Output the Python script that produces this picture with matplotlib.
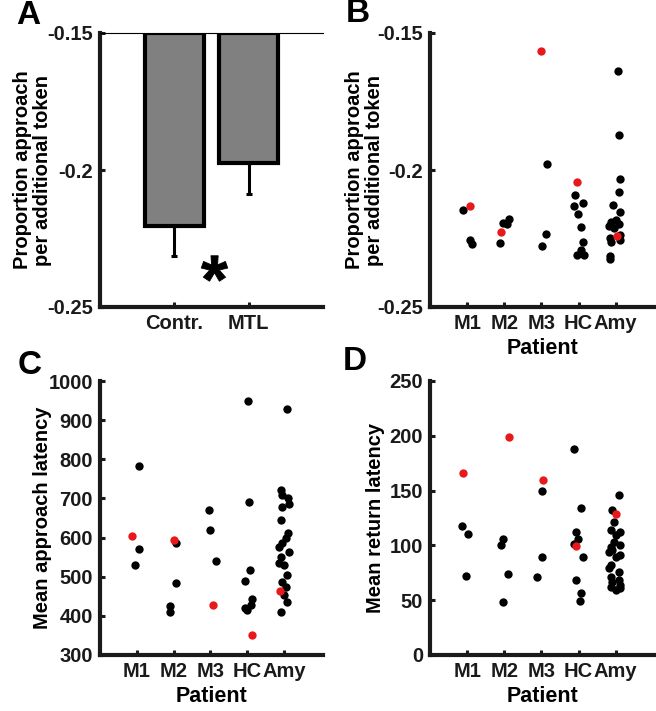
import numpy as np
import matplotlib
matplotlib.use("Agg")
import matplotlib.pyplot as plt
from matplotlib.textpath import TextPath
from matplotlib.font_manager import FontProperties
from matplotlib.path import Path

plt.rcParams['font.family'] = ['Liberation Sans', 'DejaVu Sans']
plt.rcParams['font.weight'] = 'bold'

# ---------------- data ----------------
groups_A = ['Contr.', 'MTL']
mean_A = [-0.2204, -0.1974]
err_A = [0.0110, 0.0114]
star_A = (1.53, -0.2358)

patients = ['M1', 'M2', 'M3', 'HC', 'Amy']

# Panel B: proportion approach per additional token
B_black_val = {
    'M1': [-0.2147, -0.2257, -0.2269],
    'M2': [-0.2266, -0.2193, -0.2197, -0.2179],
    'M3': [-0.1977, -0.2234, -0.2279],
    'HC': [-0.2090, -0.2130, -0.2120, -0.2161, -0.2208, -0.2261, -0.2291, -0.2309, -0.2309],
    'Amy': [-0.1640, -0.1874, -0.2033, -0.2082, -0.2127, -0.2155, -0.2188, -0.2181, -0.2196,
            -0.2206, -0.2212, -0.2236, -0.2248, -0.2261, -0.2254, -0.2313, -0.2325],
}
B_black_jit = {
    'M1': [-0.11, 0.09, 0.14],
    'M2': [-0.11, -0.04, 0.07, 0.13],
    'M3': [0.14, 0.13, 0.01],
    'HC': [-0.10, -0.12, 0.13, -0.01, 0.08, 0.13, 0.06, -0.03, 0.15],
    'Amy': [0.06, 0.10, 0.12, 0.09, -0.06, 0.13, -0.13, 0.00, 0.09,
            -0.18, -0.05, 0.13, -0.15, -0.13, 0.13, -0.15, -0.15],
}
B_red_val = [-0.2130, -0.2226, -0.1567, -0.2042, -0.2242]
B_red_jit = [0.09, -0.09, 0.00, -0.03, 0.03]

# Panel C: mean approach latency
C_black_val = {
    'M1': [783, 571, 531],
    'M2': [587, 485, 425, 410],
    'M3': [671, 619, 540],
    'HC': [949, 691, 517, 489, 421, 416, 427, 442],
    'Amy': [928, 721, 708, 700, 687, 677, 644, 611, 598, 585, 576, 564, 551, 534, 530,
            504, 487, 474, 453, 436, 411],
}
C_black_jit = {
    'M1': [0.07, 0.07, -0.06],
    'M2': [0.06, 0.06, -0.09, -0.11],
    'M3': [-0.04, 0.00, 0.14],
    'HC': [0.02, 0.04, 0.08, -0.07, -0.07, -0.01, 0.11, 0.14],
    'Amy': [0.09, -0.09, -0.05, 0.12, 0.13, -0.05, -0.09, 0.12, 0.05, -0.05, -0.13, 0.13,
            -0.09, -0.13, 0.00, 0.09, -0.05, 0.05, 0.00, 0.09, -0.09],
}
C_red_val = [603, 593, 429, 351, 463]
C_red_jit = [-0.13, 0.00, 0.08, 0.12, -0.12]

# Panel D: mean return latency
D_black_val = {
    'M1': [117.5, 110, 72],
    'M2': [100, 106, 73.5, 48],
    'M3': [150, 89, 71],
    'HC': [188.4, 133.7, 112.4, 105.4, 101, 89.6, 68.4, 56.2, 49],
    'Amy': [145.8, 132, 121.5, 114, 112.4, 109.4, 103, 100, 98.7, 95.7, 94, 91, 89.6, 82,
            79, 76, 71.4, 68.4, 66.8, 63.8, 62.3, 59.2, 60.8],
}
D_black_jit = {
    'M1': [-0.15, 0.02, -0.02],
    'M2': [-0.09, -0.03, 0.09, -0.04],
    'M3': [0.01, 0.01, -0.11],
    'HC': [-0.12, 0.08, -0.07, -0.01, -0.13, 0.13, -0.07, 0.08, 0.04],
    'Amy': [0.09, -0.09, -0.05, -0.13, 0.12, 0.00, -0.05, 0.12, -0.13, -0.09, -0.18, 0.12,
            0.00, -0.13, -0.18, 0.09, -0.13, 0.09, -0.09, 0.13, -0.13, 0.00, 0.13],
}
D_red_val = [166, 199, 159.5, 99.3, 129]
D_red_jit = [-0.12, 0.12, 0.04, -0.07, 0.00]

# ---------------- style ----------------
W, H = 656, 711
fig = plt.figure(figsize=(W / 100, H / 100), dpi=100)

def px_axes(left, top, right, bottom):
    return fig.add_axes([left / W, 1 - bottom / H, (right - left) / W, (bottom - top) / H])

RED = '#e8191c'
SPINE_LW = 3.0
FS = 14.5
LFS = 14.5

def style(ax):
    for s in ['top', 'right']:
        ax.spines[s].set_visible(False)
    for s in ['left', 'bottom']:
        ax.spines[s].set_linewidth(SPINE_LW)
        ax.spines[s].set_color('#1a1a1a')
    ax.tick_params(direction='in', length=3.5, width=2.2, labelsize=FS, pad=5, colors='#1a1a1a')
    for lab in ax.get_xticklabels() + ax.get_yticklabels():
        lab.set_fontweight('bold')

def letter(x, y, t):
    fig.text(x / W, 1 - y / H, t, fontsize=24, fontweight='bold', ha='center', va='center')

def scatter_panel(ax, bvals, bjit, rvals, rjit):
    for i, p in enumerate(patients):
        xs = [i + 1 + j for j in bjit[p]]
        ax.plot(xs, bvals[p], 'o', color='black', ms=6.0, mec='none', zorder=3)
    xs = [i + 1 + j for i, j in enumerate(rjit)]
    ax.plot(xs, rvals, 'o', color=RED, ms=6.0, mec='none', zorder=4)
    ax.set_xlim(0, 6.06)
    ax.set_xticks(range(1, len(patients) + 1))
    ax.set_xticklabels(patients)
    ax.set_xlabel('Patient', fontsize=15.5, fontweight='bold', labelpad=4)

# ---------------- panel A ----------------
axA = px_axes(100, 33, 323, 307)
xA = np.arange(1, len(groups_A) + 1)
base = -0.15
axA.bar(xA, np.array(mean_A) - base, bottom=base, width=0.8, color='#808080',
        edgecolor='black', linewidth=3.0, zorder=2)
axA.errorbar(xA, mean_A, yerr=[err_A, [0, 0]], fmt='none', ecolor='black',
             elinewidth=2.2, capsize=2.5, capthick=2.2, zorder=1)
axA.set_xlim(0, 3)
axA.set_ylim(-0.25, -0.15)
axA.set_yticks([-0.25, -0.2, -0.15])
axA.set_yticklabels(['-0.25', '-0.2', '-0.15'])
axA.set_xticks(xA)
axA.set_xticklabels(groups_A)
style(axA)
axA.spines['top'].set_visible(True)
axA.spines['top'].set_linewidth(0.8)
axA.set_ylabel('Proportion approach\nper additional token', fontsize=LFS,
               fontweight='bold', linespacing=1.05)
axA.yaxis.set_label_coords(-0.215, 0.5)

# asterisk marker centred on its glyph (ignore CLOSEPOLY placeholder vertices)
tp = TextPath((0, 0), '*', size=1, prop=FontProperties(family='Liberation Sans', weight='bold'))
v = tp.vertices.copy()
codes = tp.codes
real = codes != Path.CLOSEPOLY
c = (v[real].min(axis=0) + v[real].max(axis=0)) / 2
v = v - c
v[~real] = 0.0
star_path = Path(v, codes)
axA.plot([star_A[0]], [star_A[1]], marker=star_path, ms=19, color='black', mec='black', mew=0.6)

letter(28, 15, 'A')

# ---------------- panel B ----------------
axB = px_axes(430, 33, 655, 307)
scatter_panel(axB, B_black_val, B_black_jit, B_red_val, B_red_jit)
axB.set_ylim(-0.25, -0.15)
axB.set_yticks([-0.25, -0.2, -0.15])
axB.set_yticklabels(['-0.25', '-0.2', '-0.15'])
style(axB)
axB.set_ylabel('Proportion approach\nper additional token', fontsize=LFS,
               fontweight='bold', linespacing=1.05)
axB.yaxis.set_label_coords(-0.205, 0.5)
letter(358, 14, 'B')

# ---------------- panel C ----------------
axC = px_axes(100, 381, 323, 655)
scatter_panel(axC, C_black_val, C_black_jit, C_red_val, C_red_jit)
axC.set_ylim(300, 1000)
axC.set_yticks(range(300, 1001, 100))
style(axC)
axC.set_ylabel('Mean approach latency', fontsize=LFS, fontweight='bold')
axC.yaxis.set_label_coords(-0.215, 0.5)
letter(30, 365, 'C')

# ---------------- panel D ----------------
axD = px_axes(430, 381, 655, 655)
scatter_panel(axD, D_black_val, D_black_jit, D_red_val, D_red_jit)
axD.set_ylim(0, 250)
axD.set_yticks(range(0, 251, 50))
style(axD)
axD.set_ylabel('Mean return latency', fontsize=LFS, fontweight='bold')
axD.yaxis.set_label_coords(-0.2, 0.5)
letter(355, 362, 'D')

fig.savefig('out.png', dpi=100)
